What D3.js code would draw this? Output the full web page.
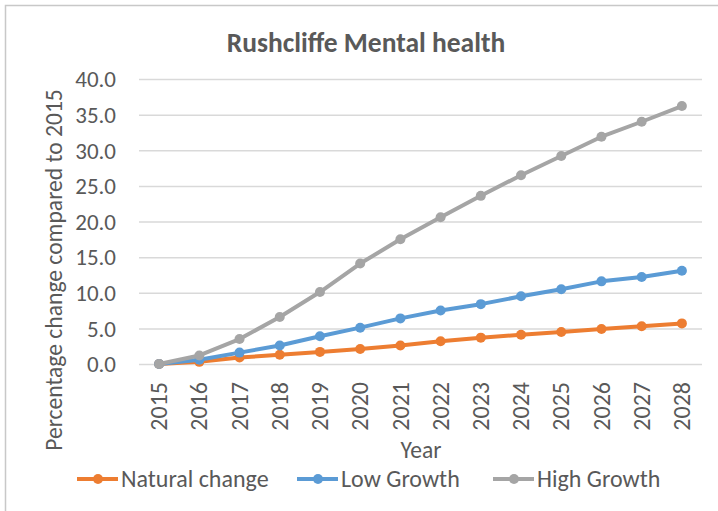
<!DOCTYPE html>
<html>
<head>
<meta charset="utf-8">
<script src="https://cdn.jsdelivr.net/npm/d3@7"></script>
<style>
    body { margin: 0; background: #fff; }
    svg text { font-family: Carlito, "Open Sans", sans-serif; fill: #595959; }
</style>
</head>
<body>
<div id="chart"></div>
<script>
/*global d3*/
var years = ["2015", "2016", "2017", "2018", "2019", "2020", "2021", "2022", "2023", "2024", "2025", "2026", "2027", "2028"];
var naturalChange = [0, 0.3, 0.9, 1.3, 1.7, 2.1, 2.6, 3.2, 3.7, 4.1, 4.5, 4.9, 5.3, 5.7];
var lowGrowth = [0, 0.6, 1.6, 2.6, 3.9, 5.1, 6.4, 7.5, 8.4, 9.5, 10.5, 11.6, 12.2, 13.1];
var highGrowth = [0, 1.2, 3.5, 6.6, 10.1, 14.1, 17.5, 20.6, 23.6, 26.5, 29.2, 31.9, 34.0, 36.2];
var yTicks = [0, 5, 10, 15, 20, 25, 30, 35, 40];
var seriesNames = ["Natural change", "Low Growth", "High Growth"];

(function () {
    "use strict";
    var width = 718,
        height = 511,
        left = 139,
        right = 702,
        top = 79,
        bottom = 364,
        colors = ["#ED7D31", "#5B9BD5", "#A5A5A5"],
        series = [naturalChange, lowGrowth, highGrowth],
        legendX = [77, 297, 493],
        svg,
        xScale,
        yScale,
        line;

    svg = d3.select("#chart").append("svg")
        .attr("width", width)
        .attr("height", height);

    //the frame of the chart, cut off at right and bottom
    svg.append("path")
        .attr("d", "M5.5," + height + "V5.5H" + width)
        .attr("fill", "none")
        .attr("stroke", "#c8c8c8")
        .attr("stroke-width", 1.5);

    xScale = d3.scaleBand().domain(years).range([left, right]);
    yScale = d3.scaleLinear().domain([0, 40]).range([bottom, top]);

    //title
    svg.append("text")
        .attr("x", 366)
        .attr("y", 52)
        .attr("text-anchor", "middle")
        .attr("font-size", 27.5)
        .attr("font-weight", "bold")
        .text("Rushcliffe Mental health");

    //gridlines + y labels
    svg.append("g")
        .attr("transform", "translate(" + left + ",0)")
        .call(d3.axisLeft(yScale).tickValues(yTicks).tickSize(-(right - left)).tickPadding(23)
            .tickFormat(d3.format(".1f")))
        .call(function (g) {
            g.select(".domain").remove();
            g.selectAll(".tick line").attr("stroke", "#d9d9d9").attr("stroke-width", 1.5);
            g.selectAll(".tick text").attr("font-size", 23).attr("dy", "0.34em");
        });

    //x labels, rotated
    svg.append("g")
        .attr("transform", "translate(0," + bottom + ")")
        .call(d3.axisBottom(xScale).tickSize(0))
        .call(function (g) {
            g.select(".domain").remove();
            g.selectAll(".tick text")
                .attr("font-size", 24)
                .attr("text-anchor", "end")
                .attr("transform", "rotate(-90)")
                .attr("x", -18)
                .attr("y", 0)
                .attr("dy", "0.34em");
        });

    //axis titles
    svg.append("text")
        .attr("x", 421)
        .attr("y", 458)
        .attr("text-anchor", "middle")
        .attr("font-size", 23.5)
        .text("Year");

    svg.append("text")
        .attr("transform", "translate(62,270) rotate(-90)")
        .attr("text-anchor", "middle")
        .attr("font-size", 23.6)
        .text("Percentage change compared to 2015");

    line = d3.line()
        .x(function (d, i) { return xScale(years[i]) + xScale.bandwidth() / 2; })
        .y(function (d) { return yScale(d); });

    series.forEach(function (values, s) {
        var g = svg.append("g");
        g.append("path")
            .attr("d", line(values))
            .attr("fill", "none")
            .attr("stroke", colors[s])
            .attr("stroke-width", 4)
            .attr("stroke-linejoin", "round");
        g.selectAll("circle")
            .data(values)
            .enter().append("circle")
            .attr("cx", function (d, i) { return xScale(years[i]) + xScale.bandwidth() / 2; })
            .attr("cy", function (d) { return yScale(d); })
            .attr("r", 5)
            .attr("fill", colors[s]);
    });

    //legend
    seriesNames.forEach(function (name, s) {
        var g = svg.append("g").attr("transform", "translate(" + legendX[s] + ",479)");
        g.append("line")
            .attr("x1", 0)
            .attr("x2", 41)
            .attr("stroke", colors[s])
            .attr("stroke-width", 4);
        g.append("circle")
            .attr("cx", 21)
            .attr("r", 5)
            .attr("fill", colors[s]);
        g.append("text")
            .attr("x", 44)
            .attr("y", 8)
            .attr("font-size", 24)
            .text(name);
    });
}());
</script>
</body>
</html>
